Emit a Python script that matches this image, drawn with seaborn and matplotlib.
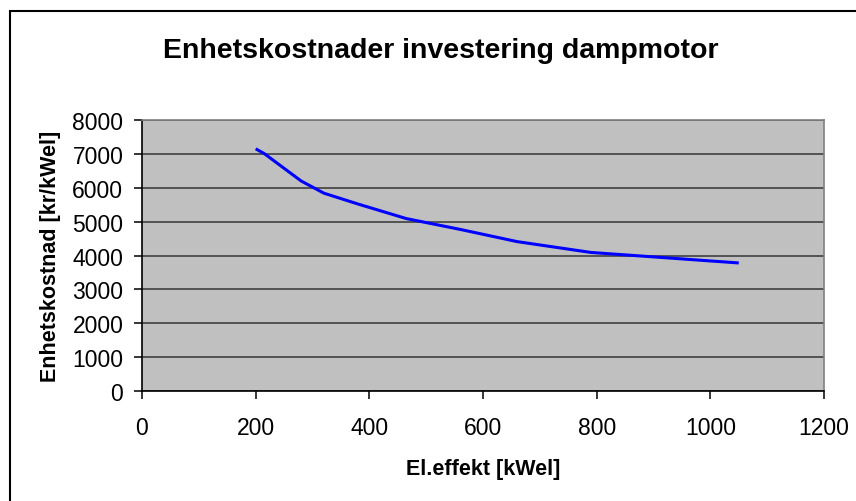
import matplotlib
matplotlib.use("Agg")
import matplotlib.pyplot as plt
import seaborn as sns
import pandas as pd
from matplotlib.patches import Rectangle

# Unit investment cost of a steam engine vs. electrical output
effekt_kwel = [200, 215, 280, 320, 380, 465, 560, 660, 790, 1050]
kostnad_kr_per_kwel = [7150, 7010, 6200, 5840, 5520, 5090, 4770, 4410, 4090, 3780]

x_ticks = [0, 200, 400, 600, 800, 1000, 1200]
y_ticks = [0, 1000, 2000, 3000, 4000, 5000, 6000, 7000, 8000]

df = pd.DataFrame({"effekt": effekt_kwel, "kostnad": kostnad_kr_per_kwel})

sns.set_theme(style="white")
plt.rcParams["font.family"] = ["Liberation Sans", "DejaVu Sans"]
plt.rcParams["text.color"] = "black"
plt.rcParams["axes.labelcolor"] = "black"

W, H = 856, 502
fig = plt.figure(figsize=(W / 100, H / 100), dpi=100)
fig.patch.set_facecolor("white")

# plot area in pixel coordinates
left, right, top, bottom = 142, 824, 121, 392
ax = fig.add_axes([left / W, 1 - bottom / H, (right - left) / W, (bottom - top) / H])
ax.set_facecolor("#c0c0c0")

sns.lineplot(data=df, x="effekt", y="kostnad", ax=ax, color="#0000ff",
             linewidth=2.2, solid_capstyle="butt", zorder=3)

ax.set_xlim(0, 1200)
ax.set_ylim(0, 8000)
ax.set_xticks(x_ticks)
ax.set_yticks(y_ticks)
ax.set_xticklabels([str(v) for v in x_ticks], fontsize=16.5)
ax.set_yticklabels([str(v) for v in y_ticks], fontsize=16.5)

ax.yaxis.grid(True, color="#404040", linewidth=1.2)
ax.xaxis.grid(False)
ax.set_axisbelow(True)

for side in ["top", "right"]:
    ax.spines[side].set_color("#808080")
    ax.spines[side].set_linewidth(1.2)
for side in ["left", "bottom"]:
    ax.spines[side].set_color("black")
    ax.spines[side].set_linewidth(1.2)

ax.tick_params(axis="both", which="major", direction="out", length=6, width=1.1,
               color="black", labelcolor="black", bottom=True, left=True)
ax.tick_params(axis="x", pad=12)
ax.tick_params(axis="y", pad=7.5)

ax.set_xlabel("El.effekt [kWel]", fontsize=15.5, fontweight="bold", labelpad=14)
ax.set_ylabel("Enhetskostnad [kr/kWel]", fontsize=15.5, fontweight="bold", labelpad=8)

fig.text(441 / W, 1 - 51 / H, "Enhetskostnader investering dampmotor",
         ha="center", va="center", fontsize=20.5, fontweight="bold")

# outer chart frame
fig.patches.append(Rectangle((10 / W, -0.1), 1.1, 1 - 12 / H + 0.1,
                             transform=fig.transFigure, fill=False,
                             edgecolor="black", linewidth=1.5))

fig.savefig("out.png", dpi=100)
